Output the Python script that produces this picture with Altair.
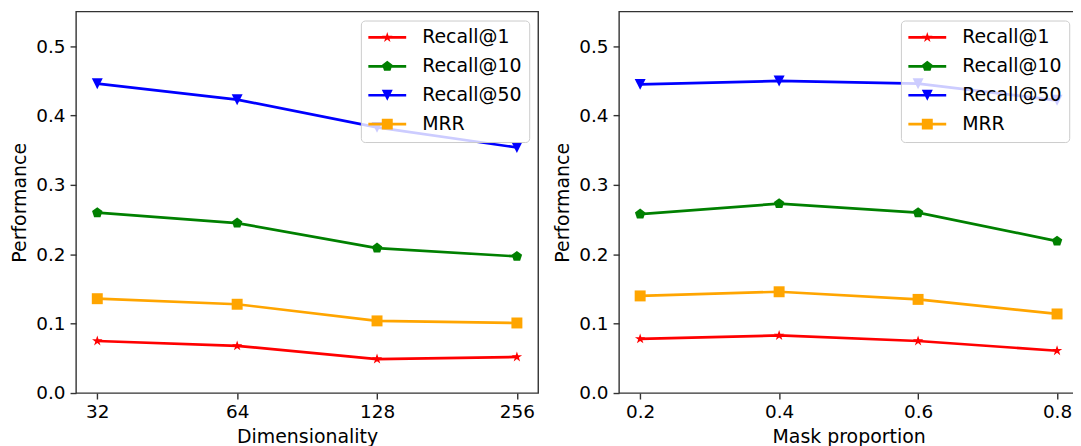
import altair as alt
import pandas as pd

# ---------------- data ----------------
series = ["Recall@1", "Recall@10", "Recall@50", "MRR"]
colors = ["#ff0000", "#008000", "#0000ff", "#ffa500"]

dims = [32, 64, 128, 256]
dim_r1 = [0.075, 0.068, 0.049, 0.052]
dim_r10 = [0.260, 0.245, 0.209, 0.197]
dim_r50 = [0.446, 0.423, 0.383, 0.354]
dim_mrr = [0.136, 0.128, 0.104, 0.101]

masks = [0.2, 0.4, 0.6, 0.8]
mask_r1 = [0.078, 0.083, 0.075, 0.061]
mask_r10 = [0.258, 0.273, 0.260, 0.219]
mask_r50 = [0.445, 0.450, 0.446, 0.422]
mask_mrr = [0.140, 0.146, 0.135, 0.114]

y_ticks = [0.0, 0.1, 0.2, 0.3, 0.4, 0.5]

# ---------------- marker shapes (unit box -1..1) ----------------
STAR = [(0, -1), (0.2245, -0.309), (0.9511, -0.309), (0.3633, 0.118), (0.5878, 0.809),
        (0, 0.382), (-0.5878, 0.809), (-0.3633, 0.118), (-0.9511, -0.309), (-0.2245, -0.309)]
PENT = [(0, -1), (0.9511, -0.309), (0.5878, 0.809), (-0.5878, 0.809), (-0.9511, -0.309)]
TRI_DOWN = [(0, 1), (-1, -1), (1, -1)]
SQUARE = [(-1, -1), (1, -1), (1, 1), (-1, 1)]
SHAPES = [STAR, PENT, TRI_DOWN, SQUARE]


def poly(pts, s=1.0, dx=0.0):
    return "M" + "L".join(f"{x * s + dx:.4f},{y * s:.4f}" for x, y in pts) + "Z"


marker_paths = [poly(p) for p in SHAPES]
# legend handle: line + marker, 19px unit box (size 361), drawn from x=0 to 38px
LEG_UNIT = 9.5
LINE_HALF = 1.35 / LEG_UNIT
MARK = 5.5 / LEG_UNIT
legend_paths = [f"M-1,{-LINE_HALF:.4f}H3V{LINE_HALF:.4f}H-1Z" + poly(p, MARK, 1.0) for p in SHAPES]

FONT = "DejaVu Sans"


def long_df(xs, cols):
    rows = []
    for s, vals in zip(series, cols):
        for x, v in zip(xs, vals):
            rows.append({"x": x, "series": s, "value": v})
    return pd.DataFrame(rows)


df_dim = long_df(dims, [dim_r1, dim_r10, dim_r50, dim_mrr])
df_mask = long_df(masks, [mask_r1, mask_r10, mask_r50, mask_mrr])

y_enc = alt.Y("value:Q", scale=alt.Scale(domain=[0, 0.55], nice=False, zero=False),
              axis=alt.Axis(values=y_ticks, format=".1f", title="Performance"))

legend = alt.Legend(title=None, orient="top-right", offset=9, padding=7.5,
                    fillColor="rgba(255,255,255,0.8)", strokeColor="#cccccc",
                    cornerRadius=4, labelFont=FONT, labelFontSize=19, labelColor="black",
                    symbolSize=361, symbolStrokeWidth=0, labelOffset=35, rowPadding=9,
                    symbolOpacity=1, labelLimit=300)


def panel(df, x_enc, w):
    base = alt.Chart(df).transform_calculate(s2="datum.series")
    lines = base.mark_line(strokeWidth=2.7).encode(
        x=x_enc, y=y_enc,
        color=alt.Color("s2:N", scale=alt.Scale(domain=series, range=colors), legend=None),
        detail="s2:N",
    )
    points = base.mark_point(filled=True, size=121, opacity=1, strokeWidth=0).encode(
        x=x_enc, y=y_enc,
        color=alt.Color("s2:N", scale=alt.Scale(domain=series, range=colors), legend=None),
        shape=alt.Shape("s2:N", scale=alt.Scale(domain=series, range=marker_paths), legend=None),
    )
    leg = base.mark_point(filled=True, size=0, opacity=1, strokeWidth=0).encode(
        x=x_enc, y=y_enc,
        color=alt.Color("series:N", scale=alt.Scale(domain=series, range=colors), legend=legend),
        shape=alt.Shape("series:N", scale=alt.Scale(domain=series, range=legend_paths), legend=legend),
    )
    return alt.layer(lines, points, leg).resolve_scale(
        color="independent", shape="independent").properties(width=w, height=383)


x_left = alt.X("x:O", sort=dims, scale=alt.Scale(type="point", padding=0.152),
               axis=alt.Axis(title="Dimensionality", labelAngle=0))
x_right = alt.X("x:Q", scale=alt.Scale(domain=[0.1696, 0.8304], nice=False, zero=False),
                axis=alt.Axis(values=masks, format=".1f", title="Mask proportion"))

chart = alt.hconcat(panel(df_dim, x_left, 464), panel(df_mask, x_right, 461),
                    spacing=13.2).resolve_scale(
    color="independent", shape="independent").resolve_legend(
    color="independent", shape="independent").properties(
    padding={"left": 1.3, "top": 1.7, "right": -6, "bottom": -2}
).configure_view(stroke="#333333", strokeWidth=1.4).configure_axis(
    grid=False, domain=False, tickColor="#333333", tickWidth=1.4, tickSize=6,
    labelFont=FONT, labelFontSize=18.5, labelColor="black",
    titleFont=FONT, titleFontSize=19, titleFontWeight="normal", titleColor="black",
    titlePadding=6,
).configure_axisX(labelPadding=4).configure_axisY(labelPadding=5)

chart.save("out.html", embed_options={"renderer": "svg", "actions": False})
